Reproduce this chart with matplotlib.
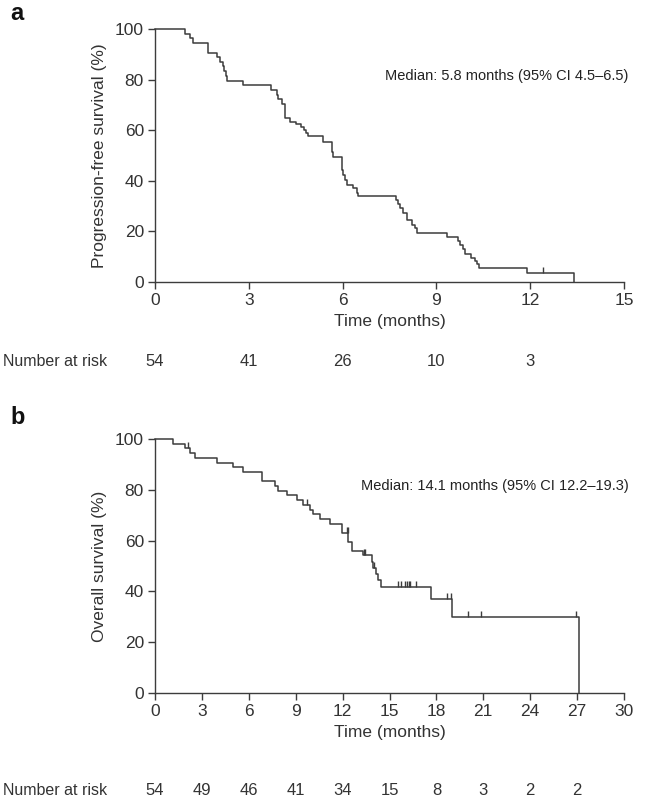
import numpy as np
import matplotlib
matplotlib.use("Agg")
import matplotlib.pyplot as plt
from matplotlib.path import Path

plt.rcParams['font.family'] = ['Liberation Sans', 'DejaVu Sans']

INK = '#333333'
LINE = '#3c3c3c'

# panel a: progression-free survival (step points, months / %)
pfs_t = [0, 0.96, 1.12, 1.20, 1.71, 1.97, 2.08, 2.16, 2.21, 2.27, 2.31, 2.80,
         3.70, 3.89, 3.94, 4.05, 4.16, 4.32, 4.50, 4.66, 4.76, 4.82, 4.89,
         5.38, 5.67, 5.70, 5.97, 6.02, 6.08, 6.13, 6.34, 6.45, 6.48, 7.71,
         7.78, 7.84, 7.92, 8.05, 8.21, 8.31, 8.39, 9.35, 9.70, 9.75, 9.86,
         9.91, 10.12, 10.23, 10.29, 10.36, 11.9, 13.4]
pfs_s = [100, 98.1, 96.3, 94.4, 90.7, 88.9, 87.0, 85.2, 83.3, 81.5, 79.6, 77.8,
         75.9, 74.1, 72.2, 70.4, 64.8, 63.3, 62.3, 61.1, 60.0, 59.0, 57.9,
         55.4, 51.4, 49.5, 44.2, 42.3, 40.3, 38.3, 37.0, 35.2, 34.1, 32.4,
         30.8, 29.1, 27.2, 24.5, 22.6, 21.3, 19.3, 17.7, 16.4, 14.8, 12.9,
         11.2, 9.6, 8.3, 7.0, 5.4, 3.7, 0]
pfs_cens = [12.4]
pfs_risk_t = [0, 3, 6, 9, 12]
pfs_risk_n = [54, 41, 26, 10, 3]

# panel b: overall survival
os_t = [0, 1.17, 1.92, 2.25, 2.56, 3.95, 5.0, 5.65, 6.85, 7.68, 7.89, 8.42,
        9.06, 9.49, 9.92, 10.13, 10.56, 11.2, 11.98, 12.37, 12.58, 13.33,
        13.86, 13.97, 14.12, 14.25, 14.46, 17.66, 19.0, 27.1]
os_s = [100, 98.1, 96.3, 94.4, 92.6, 90.7, 88.9, 87.0, 83.3, 81.5, 79.6, 77.8,
        75.9, 74.1, 72.2, 70.4, 68.5, 66.7, 62.9, 59.5, 56.0, 54.3,
        51.7, 49.1, 46.8, 44.5, 41.6, 37.1, 29.8, 0]
os_cens = [2.1, 9.7, 12.27, 12.32, 13.4, 13.45, 14.0, 15.57, 15.72, 16.0,
           16.1, 16.25, 16.31, 16.68, 18.7, 18.92, 20.05, 20.84, 26.9]
os_risk_t = [0, 3, 6, 9, 12, 15, 18, 21, 24, 27]
os_risk_n = [54, 49, 46, 41, 34, 15, 8, 3, 2, 2]

W, H = 646, 802
tick_up = Path([(0, 0), (0, 1)])


def surv_at(t, s, x):
    i = np.searchsorted(t, x, side='right') - 1
    return np.asarray(s)[i]


def panel(rect, t, s, cens, xmax, xstep, ylabel, median, risk_t, risk_n,
          risk_y, letter, letter_y, med_y):
    ax = fig.add_axes(rect)
    ax.step(t, s, where='post', color=LINE, lw=1.1, clip_on=False)
    ax.plot(cens, surv_at(t, s, cens), ls='none', marker=tick_up, ms=9,
            mew=1.0, color=LINE, clip_on=False)
    ax.set_xlim(0, xmax)
    ax.set_ylim(0, 100)
    ax.set_xticks(np.arange(0, xmax + 1, xstep))
    ax.set_yticks(range(0, 101, 20))
    for side in ['top', 'right']:
        ax.spines[side].set_visible(False)
    for side in ['left', 'bottom']:
        ax.spines[side].set_color(LINE)
        ax.spines[side].set_linewidth(1.0)
    ax.tick_params(direction='out', length=5, width=1.0, color=LINE,
                   labelsize=12.5, labelcolor=INK, pad=3)
    ax.set_xlabel('Time (months)', fontsize=12.5, color=INK, labelpad=4)
    ax.set_ylabel(ylabel, fontsize=12.5, color=INK, labelpad=6)
    ax.text(1.01, med_y, median, transform=ax.transAxes, ha='right',
            va='center', fontsize=10.5, color='#222222')
    for x, n in zip(risk_t, risk_n):
        ax.text(x, risk_y, str(n), transform=ax.get_xaxis_transform(),
                ha='center', va='center', fontsize=12, color=INK)
    ax.text(-152 / 469, risk_y, 'Number at risk', transform=ax.transAxes,
            ha='left', va='center', fontsize=11.5, color=INK)
    fig.text(10 / W, 1 - letter_y / H, letter, fontsize=17, fontweight='bold',
             color='#111111', ha='left', va='center')
    return ax


fig = plt.figure(figsize=(W / 100, H / 100), dpi=100)

panel([155 / W, 1 - 282 / H, 469 / W, 253 / H], pfs_t, pfs_s, pfs_cens, 15, 3,
      'Progression-free survival (%)',
      'Median: 5.8 months (95% CI 4.5\u20136.5)',
      pfs_risk_t, pfs_risk_n, -0.316, 'a', 14, 0.815)

panel([155 / W, 1 - 693 / H, 469 / W, 254 / H], os_t, os_s, os_cens, 30, 3,
      'Overall survival (%)',
      'Median: 14.1 months (95% CI 12.2\u201319.3)',
      os_risk_t, os_risk_n, -0.382, 'b', 418, 0.815)

fig.savefig('out.png', dpi=100)
